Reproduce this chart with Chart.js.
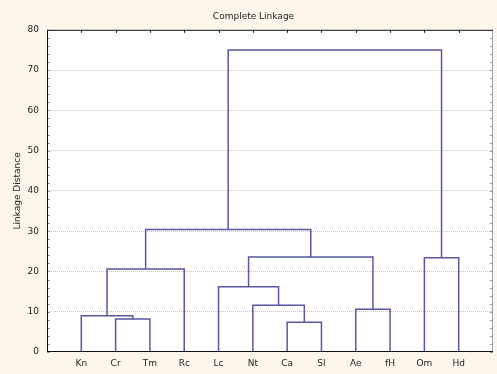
<!DOCTYPE html>
<html>
<head>
<meta charset="utf-8">
<script src="https://cdn.jsdelivr.net/npm/chart.js@4"></script>
<style>
html,body{margin:0;padding:0;background:#fcf7ea;}
canvas{display:block;}
</style>
</head>
<body>
<canvas id="c" width="497" height="374"></canvas>
<script>
// Leaves (in dendrogram order)
const leaves = ['Kn','Cr','Tm','Rc','Lc','Nt','Ca','Sl','Ae','fH','Om','Hd'];
// Merges: node ids 0..11 are leaves, 12+ are clusters in merge order
const mergeLeft   = [6, 1, 0, 8, 5, 4, 14, 10, 17, 18, 21];
const mergeRight  = [7, 2, 13, 9, 12, 16, 3, 11, 15, 20, 19];
const mergeHeight = [7.4, 8.2, 9.0, 10.6, 11.6, 16.2, 20.6, 23.4, 23.6, 30.4, 75];
const yTicks = [0,10,20,30,40,50,60,70,80];

const LINE = '#5757a3';
const nodeX = leaves.map((_, i) => i + 1);
const nodeH = leaves.map(() => 0);
const datasets = [];
for (let k = 0; k < mergeLeft.length; k++) {
  const a = mergeLeft[k], b = mergeRight[k], h = mergeHeight[k];
  datasets.push({
    data: [{x: nodeX[a], y: nodeH[a]}, {x: nodeX[a], y: h}, {x: nodeX[b], y: h}, {x: nodeX[b], y: nodeH[b]}],
    showLine: true, borderColor: LINE, borderWidth: 1.5, pointRadius: 0, fill: false, tension: 0
  });
  nodeX.push((nodeX[a] + nodeX[b]) / 2);
  nodeH.push(h);
}

const frame = {
  id: 'frame',
  beforeDraw(chart) {
    const {ctx, chartArea: a} = chart;
    ctx.save();
    ctx.fillStyle = '#fcf7ea';
    ctx.fillRect(0, 0, chart.width, chart.height);
    ctx.fillStyle = '#ffffff';
    ctx.fillRect(a.left, a.top, a.right - a.left, a.bottom - a.top);
    ctx.restore();
  },
  afterDatasetsDraw(chart) {
    const {ctx, chartArea: a, scales: {x, y}} = chart;
    ctx.save();
    // minor ticks on left and right
    ctx.strokeStyle = '#9a9a9a';
    ctx.lineWidth = 1;
    for (let v = 0; v <= 80; v += 2) {
      const py = Math.round(y.getPixelForValue(v)) + 0.5;
      ctx.beginPath();
      ctx.moveTo(a.left, py); ctx.lineTo(a.left + 3, py);
      ctx.moveTo(a.right - 3, py); ctx.lineTo(a.right, py);
      ctx.stroke();
    }
    // right border
    ctx.strokeStyle = '#a0a0a0';
    ctx.beginPath();
    ctx.moveTo(a.right - 0.5, a.top); ctx.lineTo(a.right - 0.5, a.bottom);
    ctx.stroke();
    // top border with ticks
    ctx.strokeStyle = '#111';
    ctx.beginPath();
    ctx.moveTo(a.left, a.top + 0.5); ctx.lineTo(a.right, a.top + 0.5);
    leaves.forEach((_, i) => {
      const px = Math.round(x.getPixelForValue(i + 1)) + 0.5;
      ctx.moveTo(px, a.top); ctx.lineTo(px, a.top + 3);
    });
    ctx.stroke();
    // left & bottom axes
    ctx.beginPath();
    ctx.moveTo(a.left + 0.5, a.top); ctx.lineTo(a.left + 0.5, a.bottom);
    ctx.moveTo(a.left, a.bottom - 0.5); ctx.lineTo(a.right, a.bottom - 0.5);
    ctx.stroke();
    ctx.restore();
  }
};

new Chart(document.getElementById('c'), {
  type: 'scatter',
  data: {datasets},
  plugins: [frame],
  options: {
    responsive: false,
    animation: false,
    events: [],
    layout: {padding: {left: 14, right: 4, top: 0, bottom: 0}},
    plugins: {
      legend: {display: false},
      tooltip: {enabled: false},
      title: {
        display: true, text: 'Complete Linkage', color: '#222',
        font: {family: 'DejaVu Sans', size: 9, weight: 'normal'}, padding: {top: 11, bottom: 8}
      }
    },
    scales: {
      x: {
        type: 'linear', min: 0, max: leaves.length + 1,
        afterFit(s) { s.height = 22; },
        afterBuildTicks(s) { s.ticks = leaves.map((_, i) => ({value: i + 1})); },
        ticks: {
          autoSkip: false, maxRotation: 0, padding: 6, color: '#222',
          font: {family: 'DejaVu Sans', size: 9},
          callback: (v) => leaves[v - 1] || ''
        },
        grid: {display: false, drawTicks: false},
        border: {display: false}
      },
      y: {
        min: 0, max: 80,
        afterFit(s) { s.width = 33; },
        afterBuildTicks(s) { s.ticks = yTicks.map(v => ({value: v})); },
        ticks: {padding: 8, color: '#222', font: {family: 'DejaVu Sans', size: 9}},
        title: {
          display: true, text: 'Linkage Distance', color: '#222',
          font: {family: 'DejaVu Sans', size: 9}, padding: {top: -2, bottom: 0}
        },
        grid: {
          drawTicks: false, lineWidth: 1,
          color: (c) => (c.tick && (c.tick.value === 0 || c.tick.value === 80)) ? 'rgba(0,0,0,0)' : '#c4c4c4'
        },
        border: {display: false, dash: [1, 1]}
      }
    }
  }
});
</script>
</body>
</html>
